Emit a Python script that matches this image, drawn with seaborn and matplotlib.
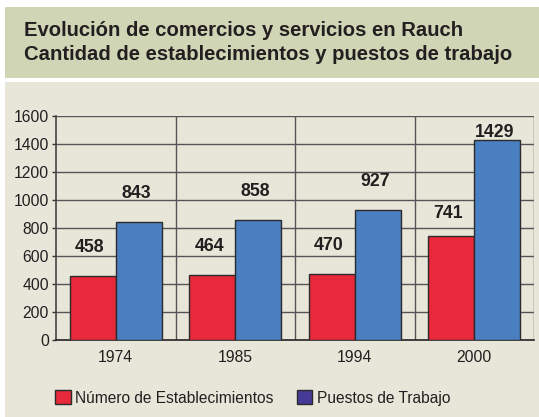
import matplotlib
matplotlib.use("Agg")
import matplotlib.pyplot as plt
from matplotlib.patches import Rectangle, Patch
import seaborn as sns
import pandas as pd

# Data
years = ["1974", "1985", "1994", "2000"]
establecimientos = [458, 464, 470, 741]
puestos = [843, 858, 927, 1429]
series_names = ["Número de Establecimientos", "Puestos de Trabajo"]
y_ticks = [0, 200, 400, 600, 800, 1000, 1200, 1400, 1600]
title_lines = ["Evolución de comercios y servicios en Rauch",
               "Cantidad de establecimientos y puestos de trabajo"]

df = pd.DataFrame({
    "year": years * 2,
    "value": establecimientos + puestos,
    "serie": [series_names[0]] * len(years) + [series_names[1]] * len(years),
})

sns.set_theme(style="white")
plt.rcParams["font.family"] = ["Liberation Sans", "DejaVu Sans"]

RED = "#e8293b"
BLUE = "#4a7fc2"
LEGEND_BLUE = "#463a98"
PANEL = "#e8e5d9"
HEADER = "#cfd5b5"
GRID = "#555555"
TEXT = "#231f20"

W, H = 539, 417
fig = plt.figure(figsize=(W / 100, H / 100), dpi=100)
fig.patch.set_facecolor("white")

def px_rect(x0, y0, x1, y1, color):
    fig.add_artist(Rectangle((x0 / W, 1 - y1 / H), (x1 - x0) / W, (y1 - y0) / H,
                             transform=fig.transFigure, facecolor=color,
                             edgecolor="none", zorder=-10))

# header band and chart panel
px_rect(5, 7, W, 78, HEADER)
px_rect(5, 82, W, H, PANEL)

fig.text(24 / W, 1 - 31 / H, title_lines[0], fontsize=14.6, fontweight="bold",
         color=TEXT, va="center", ha="left")
fig.text(24 / W, 1 - 55 / H, title_lines[1], fontsize=14.6, fontweight="bold",
         color=TEXT, va="center", ha="left")

ax = fig.add_axes([56 / W, 1 - 340 / H, (534 - 56) / W, (340 - 116) / H])
ax.set_facecolor(PANEL)

sns.barplot(data=df, x="year", y="value", hue="serie", order=years,
            hue_order=series_names, palette=[RED, BLUE], width=0.77,
            edgecolor="#2b2b2b", linewidth=1.0, saturation=1, ax=ax,
            legend=False, zorder=3)

ax.set_ylim(0, 1600)
ax.set_xlim(-0.5, len(years) - 0.5)
ax.set_yticks(y_ticks)
ax.set_yticklabels([str(t) for t in y_ticks])
ax.set_xlabel("")
ax.set_ylabel("")

# grid: horizontal every 200, vertical at category boundaries
for t in y_ticks[1:]:
    ax.axhline(t, color=GRID, lw=1.0, zorder=1)
for b in range(1, len(years) + 1):
    ax.axvline(b - 0.5, color=GRID, lw=1.0, zorder=1)

ax.set_xticks(range(len(years)))
ax.set_xticklabels(years)
ax.tick_params(axis="x", length=0, labelsize=11.3, colors=TEXT, pad=7)
ax.set_xticks([b - 0.5 for b in range(len(years) + 1)], minor=True)
ax.tick_params(axis="x", which="minor", length=6, width=1.0, color="#333333",
               direction="out")
ax.tick_params(axis="y", length=3, width=1.0, color="#333333", labelsize=11.3,
               colors=TEXT, pad=2, left=True)

for side in ["top", "right"]:
    ax.spines[side].set_visible(False)
ax.spines["left"].set_color("#444444")
ax.spines["bottom"].set_color("#222222")
ax.spines["left"].set_linewidth(1.2)
ax.spines["bottom"].set_linewidth(1.2)

# value labels (gap above the bar top, in pixels)
label_gap_px = {
    (0, 0): 24, (1, 0): 24, (2, 0): 24, (3, 0): 18,
    (0, 1): 24, (1, 1): 24, (2, 1): 24, (3, 1): 3,
}
bar_w = 0.77 / 2
for s, vals in enumerate([establecimientos, puestos]):
    for i, v in enumerate(vals):
        xc = i + (s - 0.5) * bar_w
        ax.annotate(str(v), xy=(xc, v),
                    xytext=(-2, label_gap_px[(i, s)] * 0.72),
                    textcoords="offset points", ha="center", va="baseline",
                    fontsize=12.8, fontweight="bold", color=TEXT,
                    annotation_clip=False)

# legend
handles = [Patch(facecolor=RED, edgecolor="#2b2b2b", lw=1.0),
           Patch(facecolor=LEGEND_BLUE, edgecolor="#2b2b2b", lw=1.0)]
fig.legend(handles, series_names, loc="center left",
           bbox_to_anchor=(41 / W, 1 - 398 / H), ncol=2, frameon=False,
           fontsize=11.2, handlelength=1.0, handleheight=1.0, handletextpad=0.3,
           columnspacing=1.5, labelcolor=TEXT)

fig.savefig("out.png", dpi=100, facecolor=fig.get_facecolor())
